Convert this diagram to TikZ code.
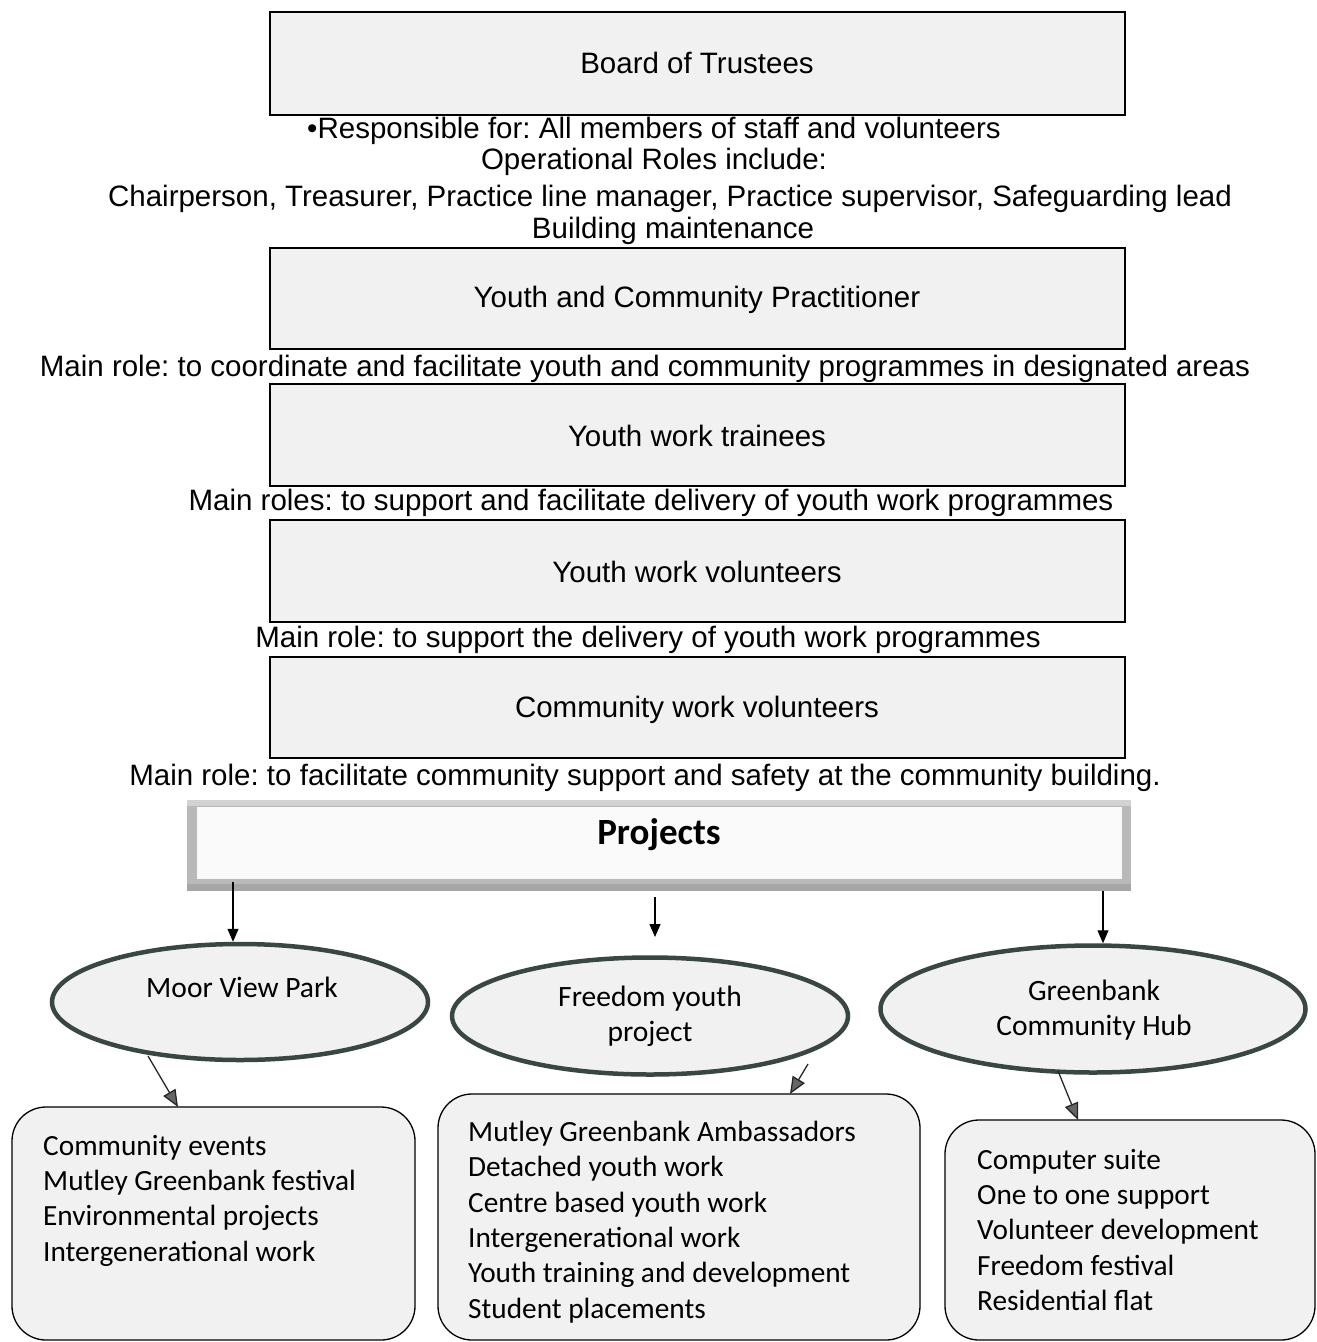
\documentclass[tikz,border=0pt]{standalone}
\usepackage{fontspec}
\setmainfont{Liberation Sans}
\newfontfamily\calib{Carlito}
\usetikzlibrary{shapes.geometric,arrows.meta}
\definecolor{boxfill}{HTML}{F1F1F1}
\definecolor{ellline}{HTML}{3A4740}
\frenchspacing
\tikzset{
  rolebox/.style={draw=black, line width=1.3pt, fill=boxfill},
  roletext/.style={font=\fontsize{29.5}{34}\selectfont, inner sep=0pt, anchor=center},
  ell/.style={ellipse, draw=ellline, line width=4.5pt, fill=boxfill, inner sep=0pt},
  elltext/.style={font=\calib\fontsize{29.5}{35}\selectfont, align=center, inner sep=0pt, anchor=center},
  listbox/.style={draw=black, line width=1.3pt, fill=boxfill, rounded corners=34pt},
  listtext/.style={font=\calib\fontsize{29.3}{35.3}\selectfont, align=left, inner sep=0pt, anchor=north west},
  arr/.style={draw=black, line width=1.2pt, -{Triangle[length=13pt,width=11pt]}},
  darr/.style={draw=black!85, line width=1.3pt, -{Triangle[length=17pt,width=14pt,fill=black!60]}}
}
\begin{document}
\begin{tikzpicture}[x=1pt,y=-1pt]
\useasboundingbox (0,0) rectangle (1317,1342);
% role boxes
\draw[rolebox] (270,12) rectangle (1125,115);
\node[roletext] (bot) at (697,63) {Board of Trustees};
\node[roletext] (l1) at (654,131) {\textbullet Responsible for: All members of staff and volunteers};
\node[roletext] (l2) at (654,162) {Operational Roles include:};
\node[roletext] (l3) at (670,199) {Chairperson, Treasurer, Practice line manager, Practice supervisor, Safeguarding lead};
\node[roletext] (l4) at (673,231) {Building maintenance};
\draw[rolebox] (270,248) rectangle (1125,349);
\node[roletext] (ycp) at (697,300) {Youth and Community Practitioner};
\node[roletext] (l5) at (645,369) {Main role: to coordinate and facilitate youth and community programmes in designated areas};
\draw[rolebox] (270,384) rectangle (1125,486);
\node[roletext] (ywt) at (697,436) {Youth work trainees};
\node[roletext] (l6) at (651,503) {Main roles: to support and facilitate delivery of youth work programmes};
\draw[rolebox] (270,520) rectangle (1125,622);
\node[roletext] (ywv) at (697,572) {Youth work volunteers};
\node[roletext] (l7) at (648,640) {Main role: to support the delivery of youth work programmes};
\draw[rolebox] (270,657) rectangle (1125,758);
\node[roletext] (cwv) at (697,710) {Community work volunteers};
\node[roletext] (l8) at (645,778) {Main role: to facilitate community support and safety at the community building.};
% projects box
\fill[gray!55] (187,800) rectangle (1131,891);
\fill[gray!35] (187,800) rectangle (1131,806);
\fill[gray!70] (187,884) rectangle (1131,891);
\fill[white!96!gray] (197,807) rectangle (1122,879);
\node[font=\calib\bfseries\fontsize{37}{42}\selectfont, inner sep=0pt] (proj) at (659,835) {Projects};
% ellipses
\node[ell, minimum width=376pt, minimum height=116pt] (mvp) at (240,1002) {};
\node[elltext] (mvpt) at (242,987) {Moor View Park};
\node[ell, minimum width=396pt, minimum height=117pt] (fyp) at (650,1016) {};
\node[elltext] (fypt) at (650,1016) {Freedom youth\\project};
\node[ell, minimum width=425pt, minimum height=127pt] (gch) at (1093,1009) {};
\node[elltext] (gcht) at (1094,1010) {Greenbank\\Community Hub};
% arrows from projects
\coordinate (p1) at (233,882);
\coordinate (p2) at (655,897);
\coordinate (p3) at (1103,891);
\coordinate (q2) at (655,937);
\draw[arr] (p1) -- (mvp.north -| p1);
\draw[arr] (p2) -- (q2);
\draw[arr] (p3) -- (gch.north -| p3);
% list boxes
\draw[listbox] (12,1107) rectangle (415,1340);
\node[listtext] (t1) at (43,1135) {Community events\\Mutley Greenbank festival\\Environmental projects\\Intergenerational work};
\draw[listbox] (438,1094) rectangle (920,1340);
\node[listtext] (t2) at (468,1121) {Mutley Greenbank Ambassadors\\Detached youth work\\Centre based youth work\\Intergenerational work\\Youth training and development\\Student placements};
\draw[listbox] (945,1120) rectangle (1315,1340);
\node[listtext] (t3) at (977,1149) {Computer suite\\One to one support\\Volunteer development\\Freedom festival\\Residential flat};
% arrows from ellipses to lists
\coordinate (s1) at (148,1056);
\coordinate (e1) at (178,1107);
\coordinate (s2) at (808,1064);
\coordinate (e2) at (790,1094);
\coordinate (s3) at (1058,1071);
\coordinate (e3) at (1078,1120);
\draw[darr] (s1) -- (e1);
\draw[darr] (s2) -- (e2);
\draw[darr] (s3) -- (e3);
\end{tikzpicture}
\end{document}
